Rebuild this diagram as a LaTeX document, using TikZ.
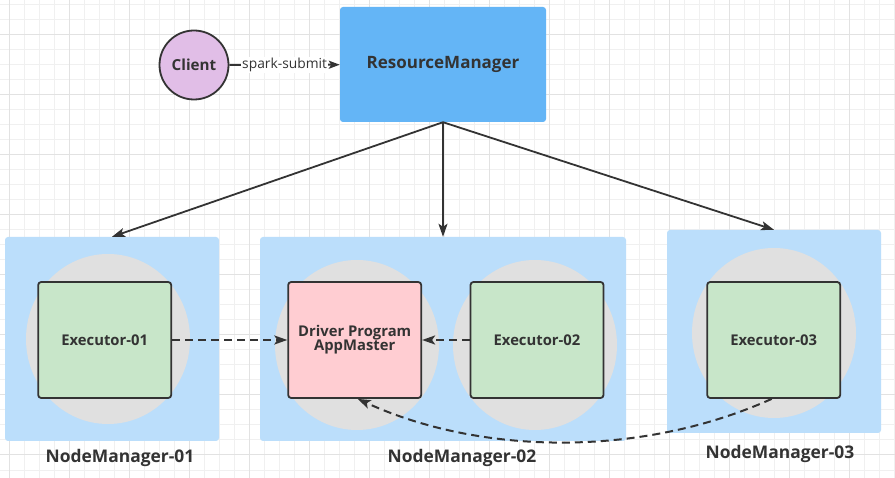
\documentclass[tikz,border=0pt]{standalone}
\usepackage{fontspec}
\setmainfont{Open Sans}
\usetikzlibrary{arrows.meta,shapes.geometric}

\definecolor{gridminor}{HTML}{F0F0F0}
\definecolor{gridmajor}{HTML}{E2E2E2}
\definecolor{inkgray}{HTML}{333333}
\definecolor{clientfill}{HTML}{E1BEE7}
\definecolor{rmfill}{HTML}{64B5F6}
\definecolor{nmfill}{HTML}{BBDEFB}
\definecolor{exfill}{HTML}{C8E6C9}
\definecolor{drvfill}{HTML}{FFCDD2}
\definecolor{poolfill}{HTML}{E0E0E0}

\tikzset{
  nmbox/.style={fill=nmfill, rounded corners=3pt, inner sep=0pt},
  pool/.style={ellipse, fill=poolfill, minimum width=164pt, minimum height=170pt, inner sep=0pt},
  taskbox/.style={draw=inkgray, line width=1.8pt, rounded corners=3pt, minimum width=133pt, minimum height=116pt,
    inner sep=0pt, align=center, text=inkgray, font=\bfseries\fontsize{14.8}{17}\selectfont},
  nmlabel/.style={anchor=base, text=inkgray, font=\bfseries\fontsize{17.4}{19}\selectfont},
  link/.style={draw=inkgray, line width=1.8pt, -{Stealth[length=13pt,width=9pt,inset=3pt]}},
  dashlink/.style={link, line width=2pt, dash pattern=on 8pt off 5pt},
}

\begin{document}
\begin{tikzpicture}[x=1pt,y=-1pt]
\useasboundingbox (0,0) rectangle (895,478);
\fill[white] (0,0) rectangle (895,478); %paper
\foreach \gx in {9,24,...,894} \draw[gridminor, line width=1pt] (\gx,0) -- (\gx,478); %minor grid columns
\foreach \gy in {5,20,...,475} \draw[gridminor, line width=1pt] (0,\gy) -- (895,\gy); %minor grid rows
\foreach \gx in {9,69,...,894} \draw[gridmajor, line width=1pt] (\gx,0) -- (\gx,478); %major grid columns
\foreach \gy in {35,95,...,475} \draw[gridmajor, line width=1pt] (0,\gy) -- (895,\gy); %major grid rows

% node managers
\node[nmbox, minimum width=214pt, minimum height=204pt] (nm1) at (112,339) {};
\node[nmbox, minimum width=366pt, minimum height=204pt] (nm2) at (443,339) {};
\node[nmbox, minimum width=214pt, minimum height=203pt] (nm3) at (774,331.5) {};
\node[nmlabel] (nm1lbl) at (120,462.7) {NodeManager-01};
\node[nmlabel] (nm2lbl) at (462,462.7) {NodeManager-02};
\node[nmlabel] (nm3lbl) at (780,458.3) {NodeManager-03};

% containers
\node[pool] (pool1) at (108,339) {};
\node[pool] (pool2a) at (357,345) {};
\node[pool] (pool2b) at (535,345) {};
\node[pool] (pool3) at (774,333) {};

\node[taskbox, fill=exfill] (ex1) at (104.7,340) {Executor-01};
\node[taskbox, fill=drvfill] (driver) at (354.7,340) {Driver Program\\[-3pt]AppMaster};
\node[taskbox, fill=exfill] (ex2) at (537,340) {Executor-02};
\node[taskbox, fill=exfill] (ex3) at (773.7,340) {Executor-03};

% top row
\node[circle, draw=inkgray, line width=1.8pt, fill=clientfill, minimum size=69pt, inner sep=0pt,
  text=inkgray, font=\bfseries\fontsize{15.2}{17}\selectfont] (client) at (194,65) {Client};
\node[fill=rmfill, rounded corners=3pt, minimum width=206pt, minimum height=115pt, inner sep=0pt,
  text=inkgray, font=\bfseries\fontsize{17}{19}\selectfont] (rm) at (443,64.5) {ResourceManager};

\draw[link, line width=2pt, -{Stealth[length=11pt,width=8pt,inset=2.5pt]}] (client) -- node[fill=white, inner sep=1pt, text=inkgray,
  font=\fontsize{13.8}{15}\selectfont] (submit) {spark-submit} (rm);
\draw[link] (rm.south) -- (nm1.north);
\draw[link] (rm.south) -- (nm2.north);
\draw[link] (rm.south) -- (nm3.north);

\draw[dashlink] (ex1.east) -- (driver.west);
\draw[dashlink] (ex2.west) -- (driver.east);
\draw[dashlink] ([xshift=-2pt]ex3.south) .. controls (640,458) and (480,455) .. ([xshift=3pt]driver.south); %back to the driver
\end{tikzpicture}
\end{document}
